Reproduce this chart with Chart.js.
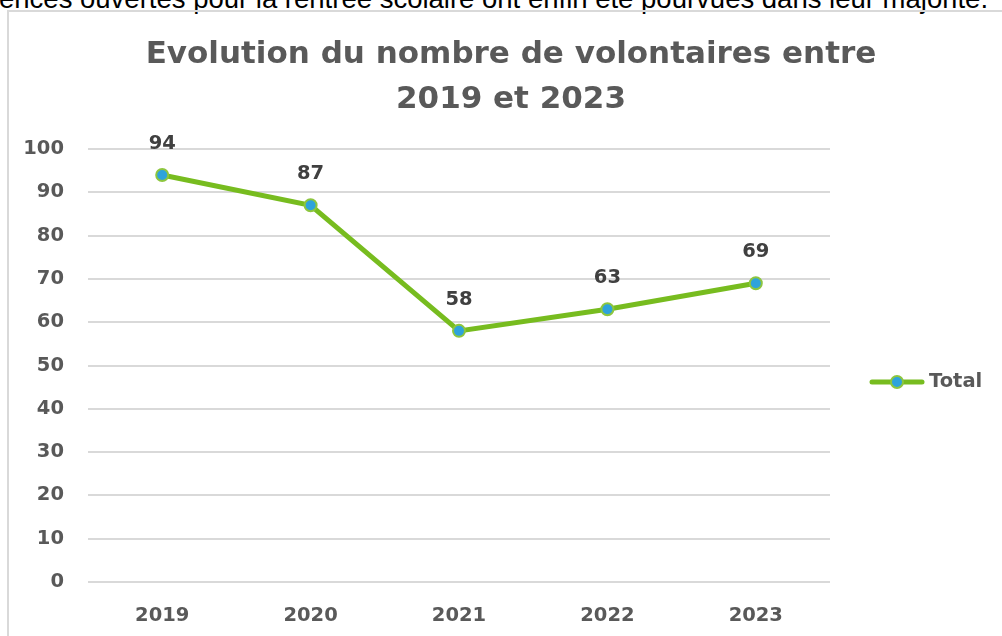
<!DOCTYPE html>
<html><head><meta charset="utf-8">
<script src="https://cdn.jsdelivr.net/npm/chart.js@4/dist/chart.umd.min.js"></script>
<style>
html,body{margin:0;padding:0;background:#fff;overflow:hidden;}
#wrap{position:relative;width:1002px;height:636px;overflow:hidden;}
#top{position:absolute;left:-1px;top:-15px;white-space:nowrap;font:27.5px "Liberation Sans",Arial,sans-serif;color:#000;line-height:27.5px;}
#frame{position:absolute;left:7px;top:10px;width:1100px;height:700px;border:2px solid #d9d9d9;box-sizing:border-box;}
#c{position:absolute;left:0;top:0;}
</style></head><body>
<div id="wrap">
<div id="top">ences ouvertes pour la rentrée scolaire ont enfin été pourvues dans leur majorité.</div>
<div id="frame"></div>
<canvas id="c" width="1002" height="636"></canvas>
</div>
<script>
const categories = ["2019","2020","2021","2022","2023"];
const totalValues = [94,87,58,63,69];
const yTicks = [0,10,20,30,40,50,60,70,80,90,100];
const titleLines = ["Evolution du nombre de volontaires entre","2019 et 2023"];
const seriesName = "Total";

const FONT = '"DejaVu Sans", sans-serif';
const LINE = '#77bc1f';
const PT = '#2ea3dc';
const PTB = '#8dc63f';

const extras = {
  id:'extras',
  afterDatasetsDraw(chart){
    const ctx = chart.ctx;
    ctx.save();
    const meta = chart.getDatasetMeta(0);
    ctx.font = 'bold 19.5px ' + FONT;
    ctx.fillStyle = '#404040';
    ctx.textAlign = 'center';
    ctx.textBaseline = 'middle';
    meta.data.forEach((p,i)=>{
      ctx.fillText(String(totalValues[i]), p.x, p.y - 31);
    });
    ctx.font = 'bold 31px ' + FONT;
    ctx.fillStyle = '#595959';
    ctx.textBaseline = 'alphabetic';
    ctx.fillText(titleLines[0], 511, 63);
    ctx.fillText(titleLines[1], 511, 108);
    ctx.textBaseline = 'middle';
    const ly = 382;
    ctx.strokeStyle = LINE; ctx.lineWidth = 5; ctx.lineCap='round';
    ctx.beginPath(); ctx.moveTo(872, ly); ctx.lineTo(922, ly); ctx.stroke();
    ctx.beginPath(); ctx.arc(897, ly, 6, 0, Math.PI*2);
    ctx.fillStyle = PT; ctx.fill(); ctx.lineWidth=2; ctx.strokeStyle=PTB; ctx.stroke();
    ctx.font = 'bold 19.5px ' + FONT;
    ctx.fillStyle = '#595959';
    ctx.textAlign = 'left';
    ctx.fillText(seriesName, 929, ly);
    ctx.restore();
  }
};

new Chart(document.getElementById('c'), {
  type:'line',
  data:{ labels:categories, datasets:[{
    label:seriesName, data:totalValues,
    borderColor:LINE, borderWidth:5, tension:0,
    pointRadius:6, pointHoverRadius:6, pointBackgroundColor:PT, pointBorderColor:PTB, pointBorderWidth:2,
    clip:false
  }]},
  options:{
    responsive:false, animation:false, devicePixelRatio:1,
    layout:{padding:{top:149,right:172,left:0,bottom:0}},
    plugins:{legend:{display:false}, title:{display:false}, tooltip:{enabled:false}},
    scales:{
      x:{ offset:true, grid:{display:false}, border:{display:false},
        ticks:{font:{family:FONT,size:19.5,weight:'bold'},color:'#595959',padding:14},
        afterFit(s){ s.height = 54; } },
      y:{ min:0, max:100, border:{display:false},
        grid:{color:'#d9d9d9', lineWidth:2, drawTicks:false},
        afterBuildTicks(s){ s.ticks = yTicks.map(v=>({value:v})); },
        ticks:{font:{family:FONT,size:19.5,weight:'bold'},color:'#595959',padding:24},
        afterFit(s){ s.width = 88; } }
    }
  },
  plugins:[extras]
});
</script>
</body></html>
